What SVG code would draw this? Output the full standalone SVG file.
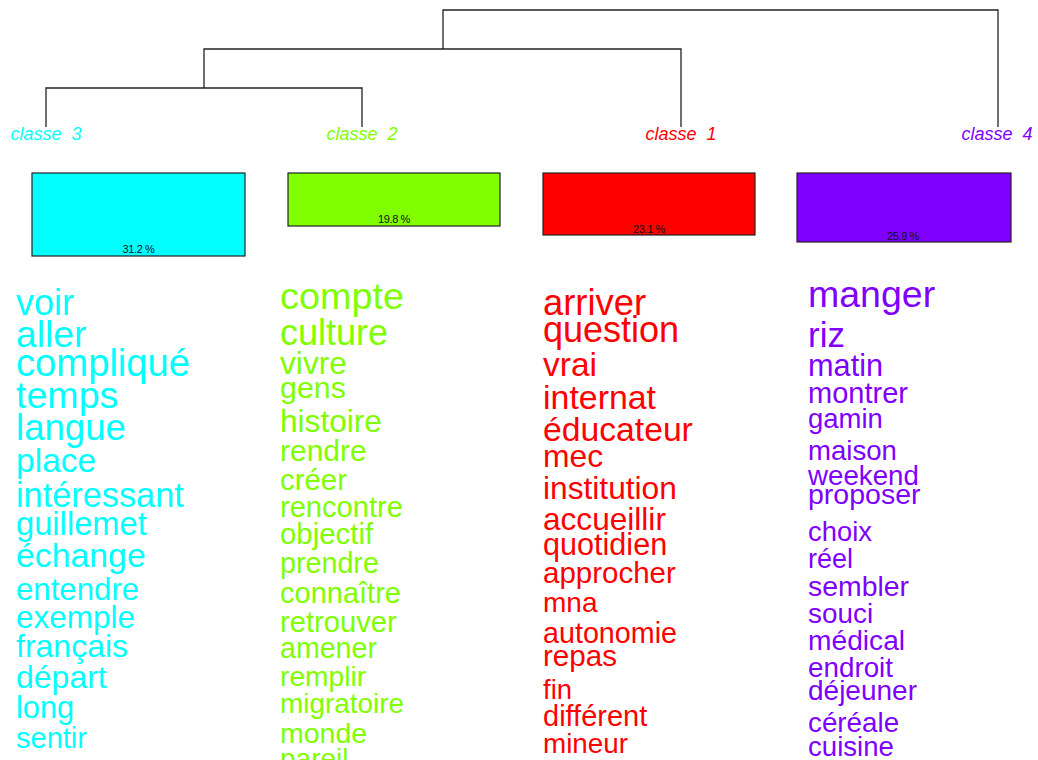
<svg xmlns="http://www.w3.org/2000/svg" width="1038" height="760" viewBox="0 0 1038 760">
<style>
text{font-family:"Liberation Sans",Arial,sans-serif}
.lbl{font-style:italic;font-size:18px;text-anchor:middle}
.pct{font-size:11px;text-anchor:middle;fill:#111;letter-spacing:-0.4px}
.box{stroke:#222;stroke-width:1.2}
.c1{fill:#FF0000}.c2{fill:#80FF00}.c3{fill:#00FFFF}.c4{fill:#8000FF}
.edge{fill:none;stroke:#222;stroke-width:1.3}
</style>
<rect width="1038" height="760" fill="#fff"/>
<g id="connectors">
<path class="edge" d="M443,49 V10 H998 V127"/>
<path class="edge" d="M204,88 V49 H681 V127"/>
<path class="edge" d="M46,127 V88 H362 V127"/>
</g>
<g id="classe3">
<text class="lbl c3" x="46" y="140" xml:space="preserve">classe  3</text>
<rect class="box c3" x="32" y="173" width="213" height="83"/>
<text class="pct" x="138.5" y="253">31.2 %</text>
<g class="c3">
<text x="16" y="315" font-size="36">voir</text>
<text x="16" y="347" font-size="37.3">aller</text>
<text x="16" y="376" font-size="38.2">compliqué</text>
<text x="16" y="408" font-size="37.6">temps</text>
<text x="16" y="440" font-size="36.6">langue</text>
<text x="16" y="472" font-size="33.6">place</text>
<text x="16" y="507" font-size="34.3">intéressant</text>
<text x="16" y="535" font-size="32.7">guillemet</text>
<text x="16" y="567" font-size="33.8">échange</text>
<text x="16" y="600" font-size="31.2">entendre</text>
<text x="16" y="628" font-size="31.5">exemple</text>
<text x="16" y="657" font-size="32">français</text>
<text x="16" y="688" font-size="32">départ</text>
<text x="16" y="718" font-size="30.7">long</text>
<text x="16" y="748" font-size="29">sentir</text>
</g>
</g>
<g id="classe2">
<text class="lbl c2" x="362" y="140" xml:space="preserve">classe  2</text>
<rect class="box c2" x="288" y="173" width="212" height="53"/>
<text class="pct" x="394" y="223">19.8 %</text>
<g class="c2">
<text x="280" y="309" font-size="37.8">compte</text>
<text x="280" y="345" font-size="36">culture</text>
<text x="280" y="374" font-size="31.7">vivre</text>
<text x="280" y="398" font-size="30.4">gens</text>
<text x="280" y="432" font-size="31.6">histoire</text>
<text x="280" y="461" font-size="30">rendre</text>
<text x="280" y="490" font-size="29.4">créer</text>
<text x="280" y="517" font-size="29.1">rencontre</text>
<text x="280" y="544" font-size="29.4">objectif</text>
<text x="280" y="573" font-size="28.7">prendre</text>
<text x="280" y="603" font-size="29">connaître</text>
<text x="280" y="632" font-size="29.2">retrouver</text>
<text x="280" y="658" font-size="28.6">amener</text>
<text x="280" y="686" font-size="28.2">remplir</text>
<text x="280" y="713" font-size="27.9">migratoire</text>
<text x="280" y="743" font-size="28.5">monde</text>
<text x="280" y="768" font-size="28">pareil</text>
</g>
</g>
<g id="classe1">
<text class="lbl c1" x="681" y="140" xml:space="preserve">classe  1</text>
<rect class="box c1" x="543" y="173" width="212" height="62"/>
<text class="pct" x="649" y="233">23.1 %</text>
<g class="c1">
<text x="543" y="315" font-size="36.4">arriver</text>
<text x="543" y="342" font-size="36">question</text>
<text x="543" y="376" font-size="33.5">vrai</text>
<text x="543" y="409" font-size="33.9">internat</text>
<text x="543" y="441" font-size="33.7">éducateur</text>
<text x="543" y="467" font-size="31.8">mec</text>
<text x="543" y="499" font-size="31.7">institution</text>
<text x="543" y="530" font-size="31.6">accueillir</text>
<text x="543" y="555" font-size="30.6">quotidien</text>
<text x="543" y="583" font-size="29.5">approcher</text>
<text x="543" y="612" font-size="28">mna</text>
<text x="543" y="643" font-size="28.7">autonomie</text>
<text x="543" y="666" font-size="29.6">repas</text>
<text x="543" y="699" font-size="27.5">fin</text>
<text x="543" y="726" font-size="29">différent</text>
<text x="543" y="753" font-size="27.8">mineur</text>
</g>
</g>
<g id="classe4">
<text class="lbl c4" x="997" y="140" xml:space="preserve">classe  4</text>
<rect class="box c4" x="797" y="173" width="214" height="69"/>
<text class="pct" x="903" y="240">25.9 %</text>
<g class="c4">
<text x="808" y="307" font-size="37.5">manger</text>
<text x="808" y="347" font-size="35">riz</text>
<text x="808" y="376" font-size="30.7">matin</text>
<text x="808" y="403" font-size="29">montrer</text>
<text x="808" y="428" font-size="27.5">gamin</text>
<text x="808" y="460" font-size="27.6">maison</text>
<text x="808" y="485" font-size="27.7">weekend</text>
<text x="808" y="504" font-size="28.5">proposer</text>
<text x="808" y="541" font-size="27.4">choix</text>
<text x="808" y="568" font-size="27">réel</text>
<text x="808" y="596" font-size="28.4">sembler</text>
<text x="808" y="623" font-size="27.9">souci</text>
<text x="808" y="650" font-size="28.2">médical</text>
<text x="808" y="677" font-size="27.8">endroit</text>
<text x="808" y="700" font-size="28">déjeuner</text>
<text x="808" y="732" font-size="27.8">céréale</text>
<text x="808" y="756" font-size="27.6">cuisine</text>
</g>
</g>
</svg>
